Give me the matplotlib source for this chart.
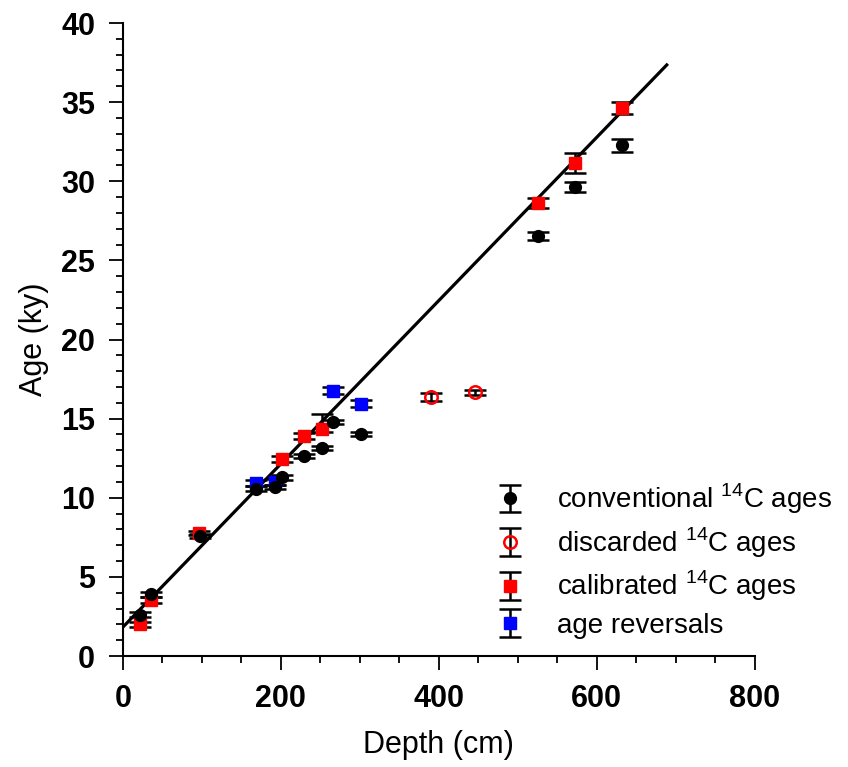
import numpy as np
import matplotlib
matplotlib.use("Agg")
import matplotlib.pyplot as plt
from matplotlib.ticker import MultipleLocator

plt.rcParams['font.family'] = ['Liberation Sans', 'DejaVu Sans']
plt.rcParams['mathtext.fontset'] = 'custom'
plt.rcParams['mathtext.rm'] = 'Liberation Sans'

# conventional 14C ages (depth cm, age ky, error ky)
conv_depth = [21.5, 35.4, 97.5, 168, 192, 202, 229.5, 252, 266, 301, 525, 573, 632.5]
conv_age = [2.6, 3.9, 7.6, 10.57, 10.68, 11.29, 12.64, 13.12, 14.77, 14.03, 26.54, 29.64, 32.27]
conv_err = [0.15, 0.15, 0.12, 0.15, 0.15, 0.15, 0.12, 0.12, 0.12, 0.1, 0.26, 0.34, 0.42]

# discarded 14C ages
disc_depth = [390.7, 445.8]
disc_age = [16.35, 16.67]
disc_err = [0.25, 0.17]

# calibrated 14C ages
cal_depth = [21.5, 35.4, 96, 202, 229.5, 252, 525, 573, 632.5]
cal_age = [2.0, 3.54, 7.77, 12.45, 13.92, 14.34, 28.6, 31.17, 34.65]
cal_err_lo = [0.15, 0.2, 0.12, 0.2, 0.2, 0.2, 0.32, 0.62, 0.37]
cal_err_hi = [0.15, 0.2, 0.12, 0.2, 0.2, 0.95, 0.32, 0.62, 0.37]

# age reversals
rev_depth = [168, 192, 266, 301]
rev_age = [10.95, 11.0, 16.77, 15.95]
rev_err = [0.2, 0.2, 0.2, 0.2]

# linear age model
fit_depth = [0, 688.6]
fit_age = [1.83, 37.35]

fig = plt.figure(figsize=(8.48, 7.67), dpi=100)
ax = fig.add_axes([0.145, 0.1447, 0.745, 0.8253])

eb = dict(ecolor='black', elinewidth=1.8, capsize=8, capthick=1.8, linestyle='none')
h_cal = ax.errorbar(cal_depth, cal_age, yerr=[cal_err_lo, cal_err_hi], marker='s',
                    ms=9, mfc='red', mec='red', **eb)
h_rev = ax.errorbar(rev_depth, rev_age, yerr=rev_err, marker='s',
                    ms=9, mfc='blue', mec='blue', **eb)
h_disc = ax.errorbar(disc_depth, disc_age, yerr=disc_err, marker='o',
                     ms=9, mfc='none', mec='red', mew=1.8, **eb)
h_conv = ax.errorbar(conv_depth, conv_age, yerr=conv_err, marker='o',
                     ms=8.5, mfc='black', mec='black', **eb)
ax.plot(fit_depth, fit_age, color='black', lw=2.3)

ax.set_xlim(0, 800)
ax.set_ylim(0, 40)
ax.xaxis.set_major_locator(MultipleLocator(200))
ax.xaxis.set_minor_locator(MultipleLocator(50))
ax.yaxis.set_major_locator(MultipleLocator(5))
ax.yaxis.set_minor_locator(MultipleLocator(1))
for s in ['top', 'right']:
    ax.spines[s].set_visible(False)
for s in ['left', 'bottom']:
    ax.spines[s].set_linewidth(1.5)
ax.tick_params(which='major', direction='out', length=10, width=1.3, labelsize=22, pad=10)
ax.tick_params(which='minor', direction='out', length=5, width=1.3)
for lab in ax.get_xticklabels() + ax.get_yticklabels():
    lab.set_fontweight('bold')

ax.set_xlabel('Depth (cm)', fontsize=22, labelpad=12)
ax.set_ylabel('Age (ky)', fontsize=22, labelpad=9)

ax.legend([h_conv, h_disc, h_cal, h_rev],
          [r'conventional $^{14}$C ages', r'discarded $^{14}$C ages',
           r'calibrated $^{14}$C ages', 'age reversals'],
          loc='lower left', bbox_to_anchor=(0.555, -0.012), frameon=False,
          fontsize=20, handlelength=0.8, handletextpad=1.3, labelspacing=0.33)

fig.savefig('out.png', dpi=100)
